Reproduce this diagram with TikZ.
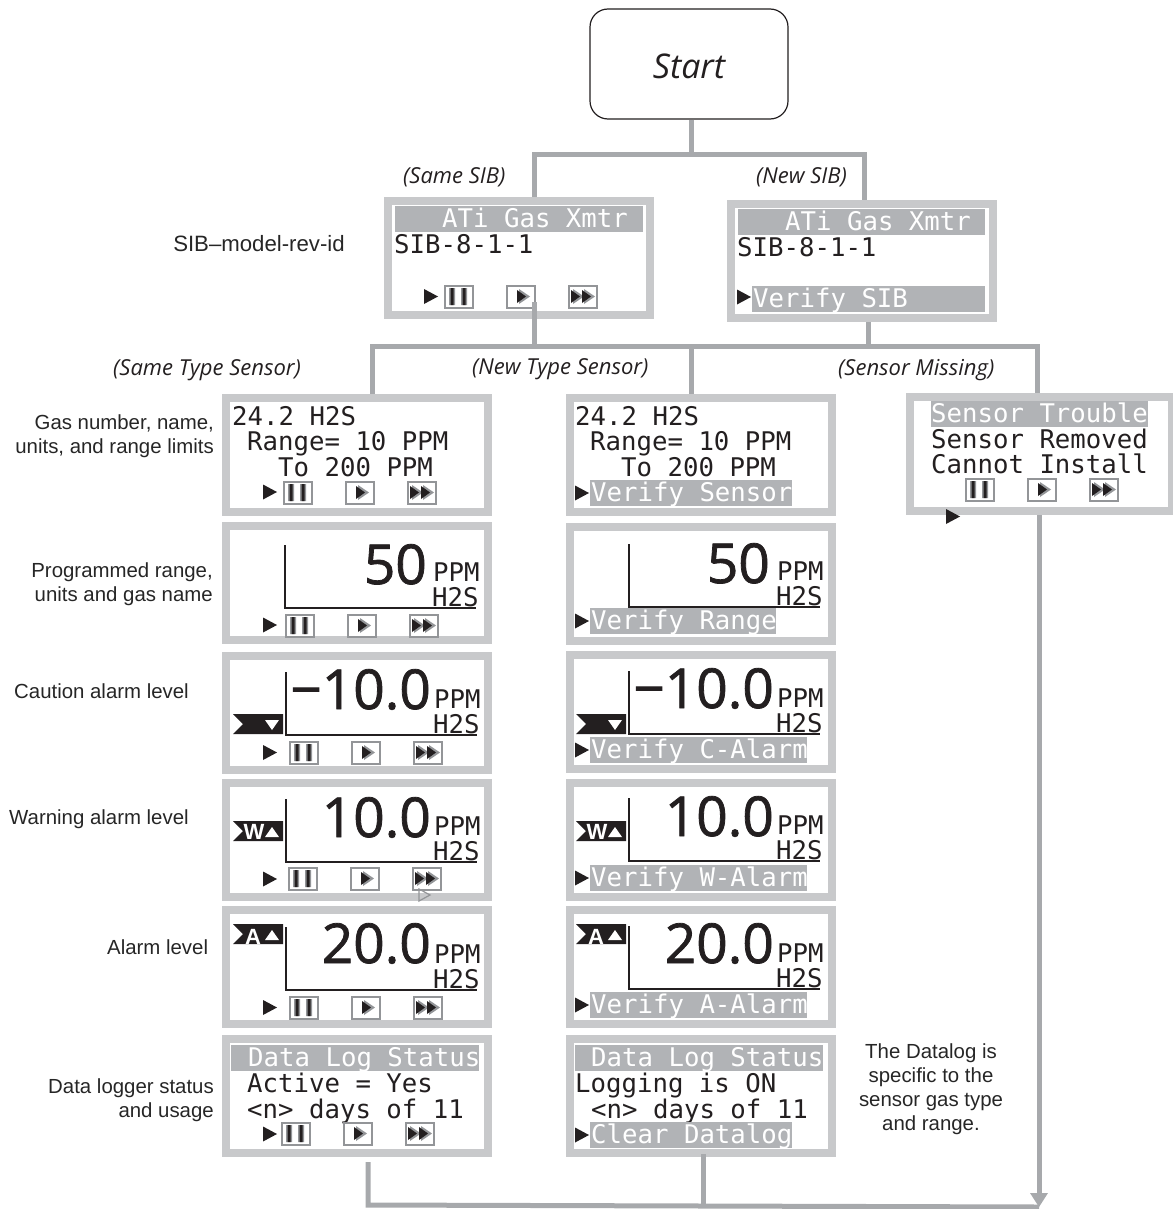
\documentclass[tikz,border=0pt]{standalone}
\usepackage{fontspec}
\usepackage{xcolor}
\usepackage{tikz}
\usetikzlibrary{calc}
\setmainfont{Liberation Sans}
\newfontfamily\lcdfamily{DejaVu Sans Mono}
\newfontfamily\numfamily{Open Sans}
\newfontfamily\heavyfamily[FakeBold=1.4]{Open Sans}
\definecolor{framegray}{HTML}{C8C9CB}
\definecolor{bargray}{HTML}{B1B3B6}
\definecolor{flowgray}{HTML}{A7A9AC}
\definecolor{keygray}{HTML}{939598}
\definecolor{lcdblack}{HTML}{231F20}
\tikzset{
    screen/.style={draw=framegray, line width=8pt, fill=white, minimum width=262pt, minimum height=114pt, inner sep=0pt},
    flow/.style={draw=flowgray, line width=5pt},
    lcdtext/.style={anchor=base west, inner sep=0pt, yshift=-1pt, text=lcdblack, font=\lcdfamily\fontsize{25.7}{26}\selectfont},
    bartext/.style={lcdtext, text=white},
    bignum/.style={anchor=base east, inner sep=0pt, text=lcdblack, font=\heavyfamily\fontsize{55}{55}\selectfont},
    note/.style={inner sep=0pt, text=black!85, font=\fontsize{20.4}{24}\selectfont},
    branch/.style={anchor=base west, inner sep=0pt, text=lcdblack, font=\numfamily\itshape\fontsize{22}{24}\selectfont},
    keybox/.style={draw=keygray, line width=1.8pt, fill=white, minimum width=28pt, minimum height=22pt, inner sep=0pt, anchor=north west},
    axisline/.style={draw=lcdblack, line width=2pt},
    flagtext/.style={inner sep=0pt, text=white, font=\bfseries\fontsize{22}{22}\selectfont}
}
% three soft keys, x = left edge of the first one
\newcommand{\keyrow}[3]{
    \node[keybox] (#1p) at (#2,#3) {};
    \node[keybox] (#1s) at (#2+62,#3) {};
    \node[keybox] (#1f) at (#2+124,#3) {};
    \fill[keygray] (#2+5,#3+3) rectangle (#2+11,#3+20) (#2+17,#3+3) rectangle (#2+23,#3+20);
    \fill[lcdblack] (#2+6.5,#3+3) rectangle (#2+9.5,#3+20) (#2+18.5,#3+3) rectangle (#2+21.5,#3+20);
    \fill[keygray] (#2+62+13,#3+4) -- (#2+62+24,#3+11.5) -- (#2+62+13,#3+19) -- cycle;
    \fill[lcdblack] (#2+62+11,#3+5) -- (#2+62+20,#3+11.5) -- (#2+62+11,#3+18) -- cycle;
    \fill[keygray] (#2+124+5,#3+4) -- (#2+124+16,#3+11.5) -- (#2+124+5,#3+19) -- cycle;
    \fill[keygray] (#2+124+16,#3+4) -- (#2+124+27,#3+11.5) -- (#2+124+16,#3+19) -- cycle;
    \fill[lcdblack] (#2+124+3,#3+5) -- (#2+124+12,#3+11.5) -- (#2+124+3,#3+18) -- cycle;
    \fill[lcdblack] (#2+124+14,#3+5) -- (#2+124+23,#3+11.5) -- (#2+124+14,#3+18) -- cycle;
}
\newcommand{\cursor}[2]{
    \fill[lcdblack] (#1,#2-7.5) -- (#1+14,#2) -- (#1,#2+7.5) -- cycle;
}
% highlighted line: bar from x1 to x2, top at y, text at x
\newcommand{\lcdbar}[6]{
    \fill[bargray] (#2,#4) rectangle (#3,#4+26);
    \node[bartext] (#1) at (#5,#4+20) {#6};
}
% bar-graph axes, units and big reading
\newcommand{\readout}[6]{
    \draw[axisline] (#2,#3) -- (#2,#3+63) -- (#2+191,#3+63);
    \node[bignum] (#1v) at (#5,#6) {#4};
    \node[lcdtext] (#1u) at (#2+148,#3+35) {PPM};
    \node[lcdtext] (#1g) at (#2+147,#3+60) {H2S};
}
\newcommand{\alarmflag}[2]{
    \fill[lcdblack] (#1,#2) -- (#1+50,#2) -- (#1+50,#2+20) -- (#1,#2+20) -- (#1+10,#2+10) -- cycle;
}
\begin{document}
\begin{tikzpicture}[x=1pt, y=-1pt]
    \useasboundingbox (0,0) rectangle (1172,1209);

    % Start
    \node[draw=lcdblack, line width=1.2pt, rounded corners=18pt, fill=white, minimum width=198pt, minimum height=110pt] (start) at (689,64) {};
    \node[inner sep=0pt, text=lcdblack, font=\numfamily\itshape\fontsize{34}{36}\selectfont] (startlabel) at (689,66) {Start};

    % SIB screens
    \node[screen] (sibsame) at (519,258) {};
    \lcdbar{sibsameh}{395}{643}{206}{442}{ATi Gas Xmtr}
    \node[lcdtext] (sibsamea) at (394,252) {SIB-8-1-1};
    \cursor{424}{296.5}
    \keyrow{sibsamek}{444}{285}

    \node[screen] (sibnew) at (861.5,261) {};
    \lcdbar{sibnewh}{738}{985}{209}{785}{ATi Gas Xmtr}
    \node[lcdtext] (sibnewa) at (737,255) {SIB-8-1-1};
    \cursor{737}{297}
    \lcdbar{sibnewv}{752}{985}{286}{753}{Verify SIB}

    \node[note, font=\fontsize{22.2}{24}\selectfont] (lsib) at (259,244) {SIB--model-rev-id};
    \node[branch] (bsame) at (403,183) {(Same SIB)};
    \node[branch] (bnew) at (756,184) {(New SIB)};

    % left column
    \node[screen] (aone) at (357,454.5) {};
    \node[lcdtext] (aonea) at (232,424) {24.2 H2S};
    \node[lcdtext] (aoneb) at (247,449) {Range= 10 PPM};
    \node[lcdtext] (aonec) at (278,475) {To 200 PPM};
    \cursor{263}{492}
    \keyrow{aonek}{283}{481}

    \node[screen] (atwo) at (357,582.5) {};
    \readout{atwor}{285}{545}{50}{427}{584}
    \cursor{263}{625}
    \keyrow{atwok}{285}{614}

    \node[screen] (athree) at (357,712.5) {};
    \readout{athreer}{286}{672}{−10.0}{431}{709}
    \alarmflag{233}{714}
    \fill[white] (265,720) -- (279,720) -- (272,730) -- cycle;
    \cursor{263}{752.5}
    \keyrow{athreek}{289}{741}

    \node[screen] (afour) at (357,839.5) {};
    \readout{afourr}{286}{799}{10.0}{431}{837}
    \alarmflag{233}{821}
    \node[flagtext] (afourl) at (254,832) {W};
    \fill[white] (265,837) -- (279,837) -- (272,827) -- cycle;
    \cursor{263}{879}
    \keyrow{afourk}{288}{867}
    \draw[keygray, line width=1.2pt] (419,889) -- (430,895) -- (419,901) -- cycle;

    \node[screen] (afive) at (357,967) {};
    \readout{afiver}{286}{927}{20.0}{431}{963}
    \alarmflag{233}{924}
    \node[flagtext] (afivel) at (253,937) {A};
    \fill[white] (265,940) -- (279,940) -- (272,930) -- cycle;
    \cursor{263}{1007.5}
    \keyrow{afivek}{289}{996}

    \node[screen] (asix) at (357,1096) {};
    \lcdbar{asixh}{231}{479}{1045}{248}{Data Log Status}
    \node[lcdtext] (asixa) at (247,1091) {Active = Yes};
    \node[lcdtext] (asixb) at (247,1117) {<n> days of 11};
    \cursor{263}{1134}
    \keyrow{asixk}{281}{1122}

    % middle column
    \node[screen] (bone) at (700.5,454.5) {};
    \node[lcdtext] (bonea) at (575,424) {24.2 H2S};
    \node[lcdtext] (boneb) at (590,449) {Range= 10 PPM};
    \node[lcdtext] (bonec) at (621,475) {To 200 PPM};
    \cursor{575}{493}
    \lcdbar{bonev}{590}{792}{480}{591}{Verify Sensor}

    \node[screen] (btwo) at (700.5,583.5) {};
    \readout{btwor}{629}{544}{50}{770}{583}
    \cursor{575}{621}
    \lcdbar{btwov}{590}{776}{608}{591}{Verify Range}

    \node[screen] (bthree) at (700.5,712) {};
    \readout{bthreer}{629}{671}{−10.0}{774}{708}
    \alarmflag{576}{714}
    \fill[white] (608,720) -- (622,720) -- (615,730) -- cycle;
    \cursor{575}{750}
    \lcdbar{bthreev}{590}{807}{737}{591}{Verify C-Alarm}

    \node[screen] (bfour) at (700.5,839.5) {};
    \readout{bfourr}{629}{798}{10.0}{774}{836}
    \alarmflag{576}{821}
    \node[flagtext] (bfourl) at (597,832) {W};
    \fill[white] (608,837) -- (622,837) -- (615,827) -- cycle;
    \cursor{575}{878}
    \lcdbar{bfourv}{590}{807}{865}{591}{Verify W-Alarm}

    \node[screen] (bfive) at (700.5,967) {};
    \readout{bfiver}{629}{926}{20.0}{774}{963}
    \alarmflag{576}{924}
    \node[flagtext] (bfivel) at (596,937) {A};
    \fill[white] (608,940) -- (622,940) -- (615,930) -- cycle;
    \cursor{575}{1005}
    \lcdbar{bfivev}{590}{807}{992}{591}{Verify A-Alarm}

    \node[screen] (bsix) at (700.5,1096) {};
    \lcdbar{bsixh}{575}{823}{1045}{591}{Data Log Status}
    \node[lcdtext] (bsixa) at (575,1091) {Logging is ON};
    \node[lcdtext] (bsixb) at (591,1117) {<n> days of 11};
    \cursor{575}{1135}
    \lcdbar{bsixv}{590}{792}{1122}{591}{Clear Datalog}

    % right column
    \node[screen] (cone) at (1041,453.5) {};
    \lcdbar{coneh}{931}{1148}{401}{931}{Sensor Trouble}
    \node[lcdtext] (conea) at (931,447) {Sensor Removed};
    \node[lcdtext] (coneb) at (931,472) {Cannot Install};
    \keyrow{conek}{965}{478}
    \cursor{946}{516.5}

    % Row labels
    \node[note, align=right, anchor=east] (lone) at (214,436) {Gas number, name,\\units, and range limits};
    \node[note, align=right, anchor=east] (ltwo) at (213,584) {Programmed range,\\units and gas name};
    \node[note, anchor=west] (lthree) at (14,691) {Caution alarm level};
    \node[note, anchor=west] (lfour) at (9,819) {Warning alarm level};
    \node[note, anchor=west] (lfive) at (107,947) {Alarm level};
    \node[note, align=right, anchor=east] (lsix) at (214,1100) {Data logger status\\and usage};
    \node[note, align=center] (ldata) at (931,1089) {The Datalog is\\specific to the\\sensor gas type\\and range.};
    \node[branch] (bsamet) at (113,375) {(Same Type Sensor)};
    \node[branch] (bnewt) at (472,374) {(New Type Sensor)};
    \node[branch] (bmiss) at (838,375) {(Sensor Missing)};

    % Connectors
    \coordinate (topsplit) at (691,155);
    \coordinate (topleft) at (534,155);
    \coordinate (topright) at (864,155);
    \draw[flow] (start.south -| topsplit) -- (topsplit);
    \draw[flow, line join=miter] (topleft |- sibsame.north) -- (topleft) -- (topright) -- (topright |- sibnew.north);

    \coordinate (midleft) at (372,346);
    \coordinate (midcentre) at (691,346);
    \coordinate (midright) at (1037,346);
    \coordinate (sibout) at (534,302);
    \coordinate (newout) at (868,346);
    \draw[flow] (sibout) -- (sibout |- midleft);
    \draw[flow] (newout |- sibnew.south) -- (newout);
    \draw[flow, line join=miter] (midleft |- aone.north) -- (midleft) -- (midright) -- (midright |- cone.north);
    \draw[flow] (midcentre) -- (midcentre |- bone.north);

    \coordinate (lowleft) at (368,1205);
    \coordinate (lowright) at (1039,1207);
    \coordinate (lowmid) at (703,1205);
    \draw[flow, line join=miter] (368,1162) -- (lowleft) -- (lowright);
    \draw[flow] (703,1154) -- (lowmid);
    \draw[flow] (1039,515) -- (1039,1194);
    \fill[flowgray] (1030,1193) -- (1048,1193) -- (lowright) -- cycle;
\end{tikzpicture}
\end{document}
